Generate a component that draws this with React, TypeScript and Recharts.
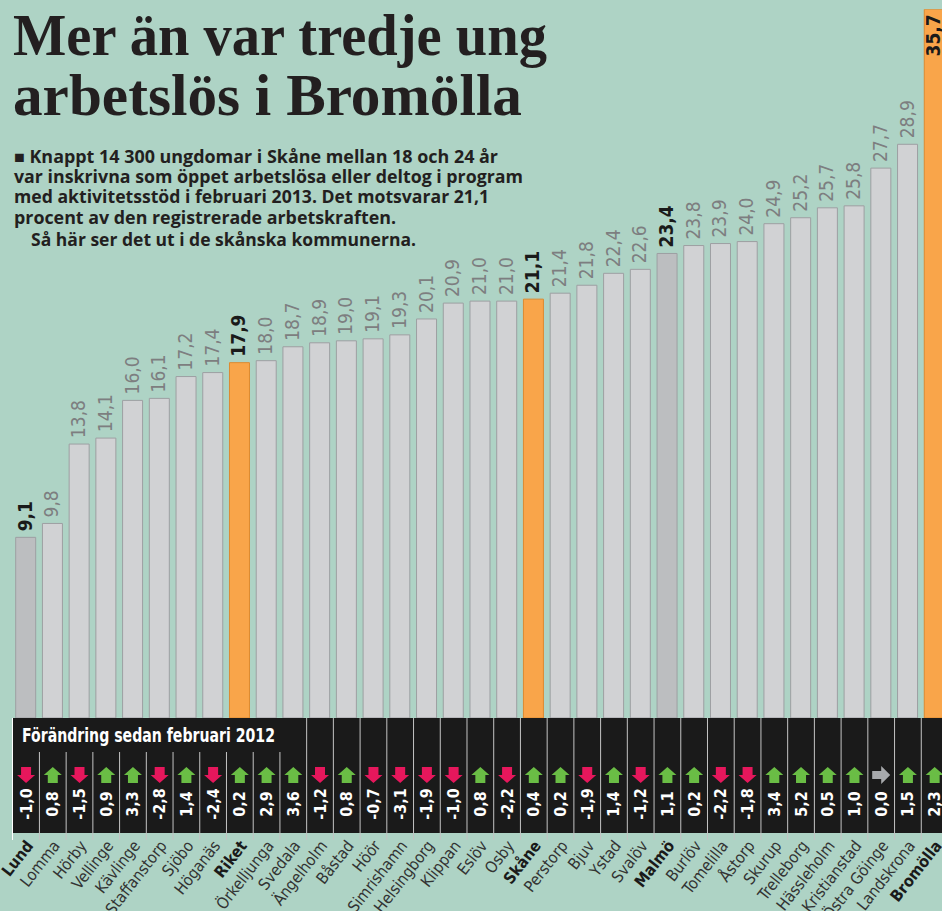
import React from 'react';
import { BarChart, Bar, XAxis, YAxis, Cell, LabelList } from 'recharts';

// Ungdomsarbetslöshet 18-24 år, februari 2013 (procent)
const kommuner = [
  'Lund', 'Lomma', 'Hörby', 'Vellinge', 'Kävlinge', 'Staffanstorp', 'Sjöbo', 'Höganäs', 'Riket',
  'Örkelljunga', 'Svedala', 'Ängelholm', 'Båstad', 'Höör', 'Simrishamn', 'Helsingborg', 'Klippan',
  'Eslöv', 'Osby', 'Skåne', 'Perstorp', 'Bjuv', 'Ystad', 'Svalöv', 'Malmö', 'Burlöv', 'Tomelilla',
  'Åstorp', 'Skurup', 'Trelleborg', 'Hässleholm', 'Kristianstad', 'Östra Göinge', 'Landskrona', 'Bromölla',
];
const andel = [
  9.1, 9.8, 13.8, 14.1, 16.0, 16.1, 17.2, 17.4, 17.9, 18.0, 18.7, 18.9, 19.0, 19.1, 19.3, 20.1, 20.9,
  21.0, 21.0, 21.1, 21.4, 21.8, 22.4, 22.6, 23.4, 23.8, 23.9, 24.0, 24.9, 25.2, 25.7, 25.8, 27.7, 28.9, 35.7,
];
// Förändring sedan februari 2012 (procentenheter)
const forandring = [
  -1.0, 0.8, -1.5, 0.9, 3.3, -2.8, 1.4, -2.4, 0.2, 2.9, 3.6, -1.2, 0.8, -0.7, -3.1, -1.9, -1.0,
  0.8, -2.2, 0.4, 0.2, -1.9, 1.4, -1.2, 1.1, 0.2, -2.2, -1.8, 3.4, 5.2, 0.5, 1.0, 0.0, 1.5, 2.3,
];
const fetstil = ['Lund', 'Riket', 'Skåne', 'Malmö', 'Bromölla'];
const orange = ['Riket', 'Skåne', 'Bromölla'];
const morkgra = ['Lund', 'Malmö'];

const data = kommuner.map((namn, i) => ({ namn, andel: andel[i], forandring: forandring[i] }));

const BG = '#aed3c5';
const NARROW = "'Liberation Sans Narrow', 'DejaVu Sans Condensed', Roboto, sans-serif";
const SLOT = (948 - 12.7) / 35;
const BASE = 718;
const fmt = (v: number) => v.toFixed(1).replace('.', ',');

const Arrow = ({ cx, v }: { cx: number; v: number }) => {
  if (v > 0) {
    const p = [[cx, 767], [cx + 9, 775], [cx + 5, 775], [cx + 5, 783], [cx - 5, 783], [cx - 5, 775], [cx - 9, 775]];
    return <polygon points={p.map((q) => q.join(',')).join(' ')} fill="#6abd45" />;
  }
  if (v < 0) {
    const p = [[cx - 5, 767], [cx + 5, 767], [cx + 5, 775], [cx + 9, 775], [cx, 783], [cx - 9, 775], [cx - 5, 775]];
    return <polygon points={p.map((q) => q.join(',')).join(' ')} fill="#e6175c" />;
  }
  const p = [[cx - 9, 771], [cx, 771], [cx, 766], [cx + 9, 775], [cx, 784], [cx, 779], [cx - 9, 779]];
  return <polygon points={p.map((q) => q.join(',')).join(' ')} fill="#a7a9ac" />;
};

const PanelTick = (props: any) => {
  const { x, index, payload } = props;
  const d = data[index];
  const bold = fetstil.includes(payload.value);
  const right = x + SLOT / 2;
  return (
    <g>
      {index === 0 && (
        <g>
          <rect x={12} y={BASE} width={940} height={115} fill="#1a1a1a" />
          <line x1={12.5} x2={12.5} y1={BASE} y2={840} stroke="#ffffff" strokeWidth={1} />
          <text x={22} y={742} fill="#ffffff" fontFamily={NARROW} fontWeight={700} fontSize={19}
            textLength={253} lengthAdjust="spacingAndGlyphs">
            Förändring sedan februari 2012
          </text>
        </g>
      )}
      <line x1={right} x2={right} y1={right < 300 ? 752 : BASE} y2={840} stroke="#c4c4c4" strokeWidth={1} />
      <Arrow cx={x} v={d.forandring} />
      <text transform={`translate(${x + 5.5},804) rotate(-90)`} textAnchor="middle" fill="#ffffff"
        fontFamily={NARROW} fontWeight={700} fontSize={16}>
        {fmt(d.forandring)}
      </text>
      <text transform={`translate(${x + 8},846) rotate(-52)`} textAnchor="end"
        fill={bold ? '#1a1a1a' : '#333333'} fontFamily={NARROW} fontWeight={bold ? 700 : 400} fontSize={16}>
        {payload.value}
      </text>
    </g>
  );
};

const ValueLabel = (props: any) => {
  const { x, y, width, index } = props;
  const d = data[index];
  const bold = fetstil.includes(d.namn);
  const cx = x + width / 2 + 6;
  const inside = y - 40 < 0;
  return (
    <text transform={`translate(${cx},${inside ? y + 5 : y - 6}) rotate(-90)`}
      textAnchor={inside ? 'end' : 'start'} fill={bold ? '#1a1a1a' : '#7d7e80'}
      fontFamily={NARROW} fontWeight={bold ? 700 : 400} fontSize={19}>
      {fmt(d.andel)}
    </text>
  );
};

const subtitle = [
  { t: '■ Knappt 14 300 ungdomar i Skåne mellan 18 och 24 år', x: 14, y: 163, w: 484 },
  { t: 'var inskrivna som öppet arbetslösa eller deltog i program', x: 14, y: 183, w: 509 },
  { t: 'med aktivitetsstöd i februari 2013. Det  motsvarar 21,1', x: 14, y: 203, w: 475 },
  { t: 'procent av den registrerade arbetskraften.', x: 14, y: 224, w: 382 },
  { t: 'Så här ser det ut i de skånska kommunerna.', x: 31, y: 246, w: 385 },
];

export default function App() {
  return (
    <div style={{ position: 'absolute', left: 0, top: 0, width: 942, height: 911, overflow: 'hidden', background: BG }}>
      <BarChart width={948} height={911} data={data} margin={{ top: 9.3, right: 0, left: 12.7, bottom: 0 }}>
        <YAxis hide domain={[0, 35.7]} allowDataOverflow />
        <XAxis dataKey="namn" interval={0} height={193} tickLine={false} axisLine={false}
          tickSize={0} tickMargin={0} tick={(p: any) => <PanelTick {...p} />} />
        <Bar dataKey="andel" barSize={20} isAnimationActive={false}>
          {data.map((d) => (
            <Cell key={d.namn}
              fill={orange.includes(d.namn) ? '#f9a54a' : morkgra.includes(d.namn) ? '#bcbec0' : '#d1d2d4'}
              stroke={orange.includes(d.namn) ? '#dd8a30' : '#9d9fa2'} strokeWidth={1} />
          ))}
          <LabelList dataKey="andel" content={(p: any) => <ValueLabel {...p} />} />
        </Bar>
      </BarChart>
      <svg style={{ position: 'absolute', left: 0, top: 0 }} width={942} height={260}>
        <text x={13} y={55} fill="#231f20" fontFamily="'Liberation Serif', serif" fontWeight={700} fontSize={59}
          textLength={534} lengthAdjust="spacingAndGlyphs">Mer än var tredje ung</text>
        <text x={13} y={115} fill="#231f20" fontFamily="'Liberation Serif', serif" fontWeight={700} fontSize={59}
          textLength={509} lengthAdjust="spacingAndGlyphs">arbetslös i Bromölla</text>
        {subtitle.map((s) => (
          <text key={s.t} x={s.x} y={s.y} fill="#231f20" fontFamily="'Open Sans', sans-serif" fontWeight={700}
            fontSize={17} textLength={s.w} lengthAdjust="spacingAndGlyphs">{s.t}</text>
        ))}
      </svg>
    </div>
  );
}
